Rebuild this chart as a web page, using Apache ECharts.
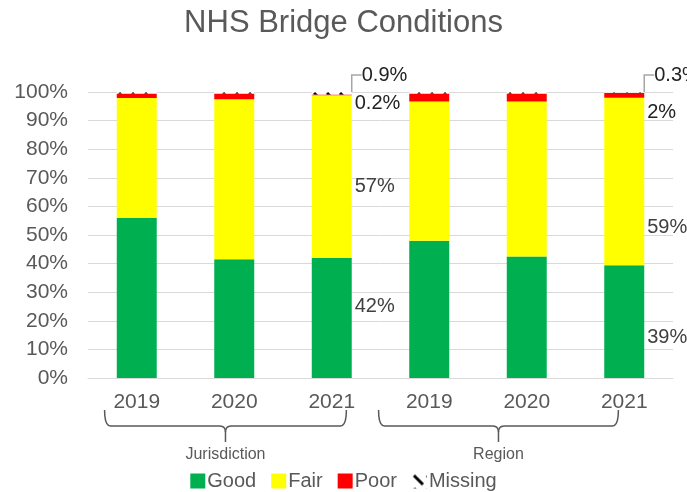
<!DOCTYPE html>
<html>
<head>
<meta charset="utf-8">
<script src="https://cdn.jsdelivr.net/npm/echarts@6/dist/echarts.min.js"></script>
<style>
  html, body { margin: 0; padding: 0; background: #fff; }
  #chart { width: 687px; height: 492px; }
</style>
</head>
<body>
<div id="chart"></div>
<script>
// years on the axis, groups under the braces
var years = ['2019', '2020', '2021', '2019', '2020', '2021'];
var groups = ['Jurisdiction', 'Region'];
var groupSpans = [[0, 2], [3, 5]];

// shares in percent
var good = [56, 41.5, 42, 48, 42.5, 39.4];
var fair = [41.9, 56, 56.9, 48.7, 54.2, 58.6];
var poor = [1.6, 2, 0.2, 2.8, 2.8, 1.7];
var missing = [0.5, 0.5, 0.9, 0.5, 0.5, 0.3];

// only the 2021 bars carry value labels
var labelled = [2, 5];

var FONT = 'Liberation Sans';
var GREY = '#595959';

function hatch() {
  var c = document.createElement('canvas');
  c.width = 13; c.height = 13;
  var g = c.getContext('2d');
  g.fillStyle = '#fff';
  g.fillRect(0, 0, 13, 13);
  g.strokeStyle = '#000';
  g.lineWidth = 3;
  g.beginPath();
  g.moveTo(2, 2); g.lineTo(11, 11);
  g.stroke();
  return c;
}

function pct(v) {
  return (v < 1 ? v.toFixed(1) : v.toFixed(0)) + '%';
}

// vertical nudges of the labels, same order as labelled
var nudges = {
  Good: [-11, 16],
  Fair: [10, 46],
  Poor: [9, 17]
};

function items(name, values) {
  return values.map(function (v, i) {
    var k = labelled.indexOf(i);
    if (k < 0) return { value: v, label: { show: false } };
    return {
      value: v,
      label: { show: true, offset: [0, nudges[name][k]] }
    };
  });
}

function series(name, values, color) {
  return {
    name: name,
    type: 'bar',
    stack: 'all',
    barWidth: '41%',
    data: items(name, values),
    itemStyle: { color: color },
    label: {
      position: 'right',
      distance: 3,
      color: '#404040',
      fontFamily: FONT,
      fontSize: 20,
      formatter: function (p) { return pct(p.value); }
    }
  };
}

var chart = echarts.init(document.getElementById('chart'));

var missingSeries = {
  name: 'Missing',
  type: 'bar',
  stack: 'all',
  barWidth: '41%',
  data: missing.map(function (v, i) {
    return { value: v, label: { show: labelled.indexOf(i) >= 0 } };
  }),
  itemStyle: { color: { image: hatch(), repeat: 'repeat' } },
  label: {
    position: 'top',
    color: '#222',
    fontFamily: FONT,
    fontSize: 20,
    formatter: function (p) { return pct(p.value); }
  },
  labelLine: { show: true, length2: 10, lineStyle: { color: '#a6a6a6', width: 1.5 } },
  labelLayout: function (p) {
    return {
      x: p.rect.x + p.rect.width + 10,
      y: p.rect.y - 17,
      align: 'left',
      verticalAlign: 'middle'
    };
  }
};

var poorSeries = series('Poor', poor, '#ff0000');
poorSeries.label.color = '#222';

chart.setOption({
  animation: false,
  title: {
    text: 'NHS Bridge Conditions',
    left: 'center',
    top: 3,
    textStyle: { fontFamily: FONT, fontSize: 31, fontWeight: 'normal', color: GREY }
  },
  legend: {
    top: 466,
    left: 'center',
    itemWidth: 15,
    itemHeight: 15,
    itemGap: 15,
    icon: 'rect',
    textStyle: { fontFamily: FONT, fontSize: 20, color: GREY, padding: [0, 0, 0, -3] },
    data: ['Good', 'Fair', 'Poor', 'Missing']
  },
  grid: { left: 88, right: 14, top: 92, bottom: 114 },
  xAxis: {
    type: 'category',
    data: years,
    axisLine: { lineStyle: { color: '#d9d9d9' } },
    axisTick: { show: false },
    axisLabel: { margin: 14, fontFamily: FONT, fontSize: 21, color: GREY }
  },
  yAxis: {
    type: 'value',
    min: 0,
    max: 100,
    interval: 10,
    axisLine: { show: false },
    axisTick: { show: false },
    splitLine: { lineStyle: { color: '#d9d9d9', width: 1 } },
    axisLabel: { margin: 20, formatter: '{value}%', fontFamily: FONT, fontSize: 21, color: GREY }
  },
  series: [
    series('Good', good, '#00b050'),
    series('Fair', fair, '#ffff00'),
    poorSeries,
    missingSeries
  ]
});

// quarter-circle corner as points, from (x0,y0) bending to (x1,y1)
function corner(x0, y0, cx, cy, x1, y1) {
  var pts = [];
  for (var t = 0; t <= 1.0001; t += 0.2) {
    var a = (1 - t) * (1 - t), b = 2 * t * (1 - t), c = t * t;
    pts.push([a * x0 + b * cx + c * x1, a * y0 + b * cy + c * y1]);
  }
  return pts;
}

// braces under the year labels
var step = chart.convertToPixel({ xAxisIndex: 0 }, 1) - chart.convertToPixel({ xAxisIndex: 0 }, 0);
var braceEnds = [[-0.33, 0.15], [-0.52, -0.06]];
var graphics = [];
groupSpans.forEach(function (span, gi) {
  var L = chart.convertToPixel({ xAxisIndex: 0 }, span[0]) + braceEnds[gi][0] * step;
  var R = chart.convertToPixel({ xAxisIndex: 0 }, span[1]) + braceEnds[gi][1] * step;
  var M = (L + R) / 2;
  var top = 410, mid = 426, tip = 442, r = 6;
  var left = corner(L, top, L, mid, L + r, mid)
    .concat(corner(M - r, mid, M, mid, M, mid + r));
  left.push([M, tip]);
  var right = corner(R, top, R, mid, R - r, mid)
    .concat(corner(M + r, mid, M, mid, M, mid + r));
  [left, right].forEach(function (pts) {
    graphics.push({
      type: 'polyline',
      shape: { points: pts },
      style: { fill: null, stroke: GREY, lineWidth: 1.5 }
    });
  });
  graphics.push({
    type: 'text',
    x: M,
    y: 455,
    style: {
      text: groups[gi],
      fontFamily: FONT,
      fontSize: 16,
      fill: GREY,
      align: 'center',
      verticalAlign: 'middle'
    }
  });
});
chart.setOption({ graphic: graphics });
</script>
</body>
</html>
